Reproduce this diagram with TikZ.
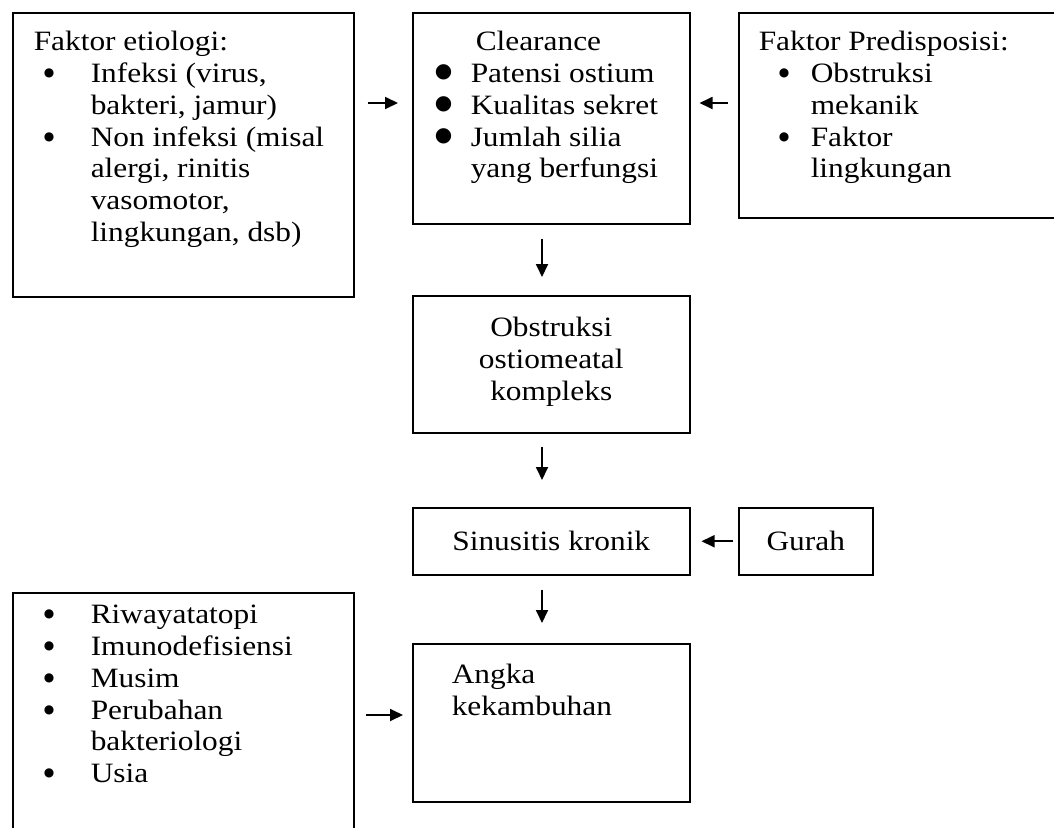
\documentclass[tikz,border=0pt]{standalone}
\usepackage{fontspec}
\setmainfont{Liberation Serif}[FakeStretch=1.12]
\newfontfamily\dejavu{DejaVu Sans}
\usetikzlibrary{arrows.meta,calc}
\newcommand{\At}[2]{\makebox[0pt][l]{\hspace*{#1pt}#2}}
\newcommand{\bulS}{\raisebox{6pt}{\dejavu\fontsize{12}{12}\selectfont ●}}
\newcommand{\bulL}{\raisebox{5pt}{\dejavu\fontsize{20}{20}\selectfont ●}}
\tikzset{
  box/.style={draw, line width=1.5pt, inner sep=0pt, anchor=north west,
    font=\fontsize{28}{31.8}\selectfont},
  arr/.style={line width=1.8pt, -{Triangle[length=13pt,width=12pt]}}
}
\begin{document}
\begin{tikzpicture}[x=1pt,y=-1pt]
\useasboundingbox (0,0) rectangle (1054,827);
\clip (0,0) rectangle (1054,827);
\node[box] (etio) at (12,12) {\parbox[t][284pt][t]{341pt}{\rule{0pt}{38pt}\At{21}{Faktor etiologi:}\\
\At{31}{\bulS}\At{78}{Infeksi (virus,}\\
\At{78}{bakteri, jamur)}\\
\At{31}{\bulS}\At{78}{Non infeksi (misal}\\
\At{78}{alergi, rinitis}\\
\At{78}{vasomotor,}\\
\At{78}{lingkungan, dsb)}}};
\node[box] (clear) at (412,12) {\parbox[t][211pt][t]{277pt}{\rule{0pt}{38pt}\At{63}{Clearance}\\
\At{22}{\bulL}\At{58}{Patensi ostium}\\
\At{22}{\bulL}\At{58}{Kualitas sekret}\\
\At{22}{\bulL}\At{58}{Jumlah silia}\\
\At{58}{yang berfungsi}}};
\node[box] (pred) at (738,12) {\parbox[t][205pt][t]{340pt}{\rule{0pt}{38pt}\At{20}{Faktor Predisposisi:}\\
\At{40}{\bulS}\At{72}{Obstruksi}\\
\At{72}{mekanik}\\
\At{40}{\bulS}\At{72}{Faktor}\\
\At{72}{lingkungan}}};
\node[box] (obst) at (412,295) {\parbox[t][137pt][t]{277pt}{\centering\rule{0pt}{41pt}Obstruksi\\ostiomeatal\\kompleks}};
\node[box] (sinus) at (412,507) {\parbox[t][67pt][t]{277pt}{\centering\rule{0pt}{43pt}Sinusitis kronik}};
\node[box] (gurah) at (738,507) {\parbox[t][67pt][t]{134pt}{\centering\rule{0pt}{43pt}Gurah}};
\node[box] (angka) at (412,643) {\parbox[t][158pt][t]{277pt}{\rule{0pt}{40pt}\At{39}{Angka}\\
\At{39}{kekambuhan}}};
\node[box] (risk) at (12,592) {\parbox[t][268pt][t]{341pt}{\rule{0pt}{31pt}\At{31}{\bulS}\At{78}{Riwayatatopi}\\
\At{31}{\bulS}\At{78}{Imunodefisiensi}\\
\At{31}{\bulS}\At{78}{Musim}\\
\At{31}{\bulS}\At{78}{Perubahan}\\
\At{78}{bakteriologi}\\
\At{31}{\bulS}\At{78}{Usia}}};
\draw[arr, shorten <=13pt, shorten >=14pt] ($(etio.north east)+(0,91)$) -- ($(clear.north west)+(0,91)$);
\draw[arr, shorten <=10pt, shorten >=9pt] ($(pred.north west)+(0,91)$) -- ($(clear.north east)+(0,91)$);
\draw[arr, shorten <=14pt, shorten >=18pt] ($(clear.south west)+(130,0)$) -- ($(obst.north west)+(130,0)$);
\draw[arr, shorten <=13pt, shorten >=27pt] ($(obst.south west)+(130,0)$) -- ($(sinus.north west)+(130,0)$);
\draw[arr, shorten <=14pt, shorten >=20pt] ($(sinus.south west)+(130,0)$) -- ($(angka.north west)+(130,0)$);
\draw[arr, shorten <=5pt, shorten >=11pt] (gurah.west) -- (sinus.east);
\draw[arr, shorten <=11pt, shorten >=9pt] ($(risk.north east)+(0,123)$) -- ($(angka.north west)+(0,72)$);
\end{tikzpicture}
\end{document}
